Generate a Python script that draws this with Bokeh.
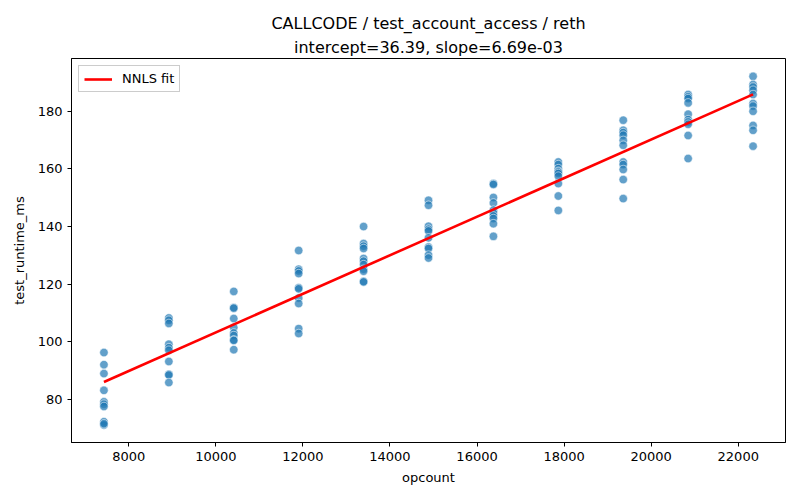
from bokeh.plotting import figure
from bokeh.models import Range1d, Title, SingleIntervalTicker, Legend, LegendItem
from bokeh.embed import file_html
from bokeh.resources import INLINE

# ---- data ----
opcount_levels = [7430, 8921, 10412, 11903, 13394, 14885, 16376, 17867, 19358, 20849, 22340]
runtime_by_level = [
    [96.3, 92.1, 89.0, 83.2, 79.2, 78.4, 77.6, 72.3, 71.2, 71.6],
    [108.3, 107.5, 106.4, 99.2, 98.0, 97.1, 93.2, 88.8, 88.5, 85.9],
    [117.5, 111.9, 111.7, 108.1, 105.0, 103.1, 102.2, 100.7, 100.5, 97.3],
    [131.7, 125.2, 124.6, 123.7, 118.8, 118.4, 115.2, 113.3, 104.6, 102.9],
    [140.0, 134.1, 133.2, 132.4, 128.9, 128.0, 126.8, 125.2, 124.5, 121.0, 120.8],
    [149.1, 147.4, 140.1, 139.1, 138.5, 136.1, 132.9, 132.4, 130.1, 129.1],
    [154.9, 154.6, 150.1, 148.2, 145.7, 144.7, 143.7, 142.8, 141.0, 136.6],
    [162.4, 161.5, 160.1, 159.2, 158.9, 158.4, 157.5, 154.9, 150.6, 145.6],
    [176.9, 173.4, 172.6, 171.7, 169.9, 168.2, 162.4, 161.5, 159.8, 156.3, 149.7],
    [185.8, 185.0, 184.4, 182.9, 179.0, 177.1, 176.3, 175.5, 171.6, 163.6],
    [192.1, 189.3, 188.4, 187.3, 185.8, 182.7, 181.8, 180.0, 175.1, 173.4, 167.9],
]
intercept = 36.39
slope = 6.69e-03
x_ticks_interval = 2000
y_ticks_interval = 20

xs, ys = [], []
for lvl, vals in zip(opcount_levels, runtime_by_level):
    for v in vals:
        xs.append(lvl)
        ys.append(v)

fit_x = [min(opcount_levels), max(opcount_levels)]
fit_y = [intercept + slope * fit_x[0], intercept + slope * fit_x[1]]

FONT = "DejaVu Sans"

p = figure(width=800, height=500, output_backend="svg", toolbar_location=None,
           x_range=Range1d(6685, 23085), y_range=Range1d(65.1, 198.3),
           min_border_left=71, min_border_right=15, min_border_top=58, min_border_bottom=58)
p.title = None
p.add_layout(Title(text="intercept=36.39, slope=6.69e-03", align="center",
                   text_font=FONT, text_font_size="16px", text_font_style="normal",
                   text_color="black", standoff=4, offset=0), "above")
p.add_layout(Title(text="CALLCODE / test_account_access / reth", align="center",
                   text_font=FONT, text_font_size="16px", text_font_style="normal",
                   text_color="black", standoff=2), "above")

p.scatter(xs, ys, size=8.5, fill_color="#1f77b4", fill_alpha=0.7,
          line_color="white", line_width=0.6, line_alpha=0.9)
fit = p.line(fit_x, fit_y, line_color="red", line_width=2.6)

legend = Legend(items=[LegendItem(label="NNLS fit", renderers=[fit])],
                location="top_left", label_text_font=FONT, label_text_font_size="13px",
                label_text_color="black",
                border_line_color="#cccccc", border_line_alpha=1.0,
                background_fill_alpha=0.8, margin=7, padding=5, glyph_width=28,
                glyph_height=14, label_standoff=10, spacing=0)
p.add_layout(legend)

p.xgrid.visible = False
p.ygrid.visible = False
p.outline_line_color = "black"
p.outline_line_width = 1
p.outline_line_alpha = 1

for ax in (p.xaxis[0], p.yaxis[0]):
    ax.axis_line_color = "black"
    ax.major_tick_line_color = "black"
    ax.major_tick_out = 4
    ax.major_tick_in = 0
    ax.minor_tick_line_color = None
    ax.major_label_text_font = FONT
    ax.major_label_text_font_size = "13px"
    ax.major_label_text_color = "black"
    ax.axis_label_text_font = FONT
    ax.axis_label_text_font_size = "13px"
    ax.axis_label_text_font_style = "normal"
    ax.axis_label_text_color = "black"
    ax.major_label_standoff = 5

p.xaxis[0].ticker = SingleIntervalTicker(interval=x_ticks_interval)
p.yaxis[0].ticker = SingleIntervalTicker(interval=y_ticks_interval)
p.xaxis[0].axis_label = "opcount"
p.yaxis[0].axis_label = "test_runtime_ms"
p.xaxis[0].axis_label_standoff = 6
p.yaxis[0].axis_label_standoff = 8

open("out.html", "w").write(file_html(p, INLINE))
